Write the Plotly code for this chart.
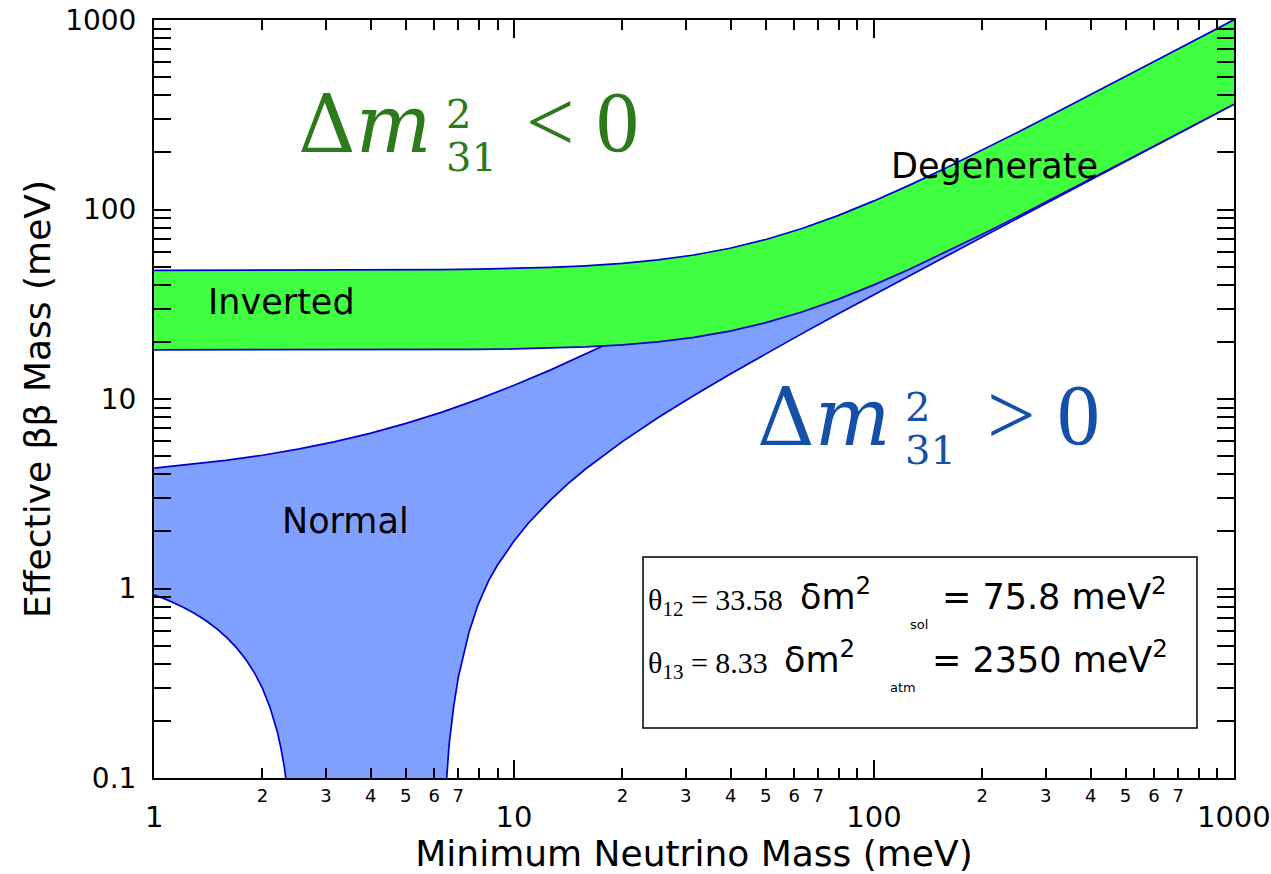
import plotly.graph_objects as go

# ---------------- data ----------------
grid_x = [1, 1.26, 1.58, 2, 2.51, 3.16, 3.98, 5.01, 6.31, 7.94,
          10, 12.6, 15.8, 20, 25.1, 31.6, 39.8, 50.1, 63.1, 79.4,
          100, 126, 158, 200, 251, 316, 398, 501, 631, 794, 1000]

inverted_upper = [47.72, 47.73, 47.75, 47.77, 47.81, 47.86, 47.93, 48.05, 48.22, 48.49,
                  48.90, 49.53, 50.47, 51.97, 54.18, 57.51, 62.42, 69.47, 79.37, 92.86,
                  111.0, 134.9, 165.2, 205.7, 255.6, 319.7, 400.9, 503.3, 632.8, 795.5, 1001.2]
inverted_lower = [18.17, 18.17, 18.17, 18.16, 18.16, 18.16, 18.17, 18.18, 18.21, 18.27,
                  18.37, 18.54, 18.82, 19.29, 20.01, 21.13, 22.82, 25.28, 28.77, 33.56,
                  40.03, 48.57, 59.42, 73.94, 91.83, 114.8, 144.0, 180.7, 227.2, 285.6, 359.4]

normal_upper = [4.32, 4.51, 4.74, 5.05, 5.44, 5.94, 6.59, 7.44, 8.53, 9.95,
                11.81, 14.20, 17.21, 21.22, 26.16, 32.50, 40.56, 50.73, 63.63, 79.82,
                100.3, 126.3, 158.3, 200.2, 251.2, 316.1, 398.0, 501.1, 631.1, 794.0, 1000.0]

normal_lower_x = [1, 1.1, 1.2, 1.3, 1.4, 1.5, 1.6, 1.7, 1.8, 1.9, 2.0, 2.1, 2.2, 2.25,
                  2.3, 2.35, 2.4, 2.45, 2.5,
                  6.3, 6.4, 6.5, 6.6, 6.8, 7.0, 7.5, 7.94, 8.5, 9.0,
                  10, 11, 12.6, 14, 15.8, 17.8, 20, 25.1, 31.6, 39.8, 50.1, 63.1, 79.4,
                  100, 126, 158, 200, 251, 316, 398, 501, 631, 794, 1000]
normal_lower = [0.927, 0.863, 0.799, 0.736, 0.672, 0.609, 0.545, 0.483, 0.421, 0.359,
                0.297, 0.235, 0.175, 0.144, 0.114, 0.084, 0.054, 0.024, 0.005,
                0.005, 0.06, 0.10, 0.15, 0.24, 0.34, 0.59, 0.82, 1.10, 1.33,
                1.78, 2.23, 2.92, 3.52, 4.27, 5.08, 5.96, 7.96, 10.44, 13.52, 17.35, 22.13, 28.08,
                35.56, 44.95, 56.5, 71.6, 90.0, 113.3, 142.8, 179.7, 226.5, 285.0, 359.0]

x_minor_vals = [2, 3, 4, 5, 6, 7, 8, 9, 20, 30, 40, 50, 60, 70, 80, 90,
                200, 300, 400, 500, 600, 700, 800, 900]
x_minor_text = ["2", "3", "4", "5", "6", "7", "", "",
                "2", "3", "4", "5", "6", "7", "", "",
                "2", "3", "4", "5", "6", "7", "", ""]
x_major_vals = [1, 10, 100, 1000]
x_major_text = ["1", "10", "100", "1000"]
y_major_vals = [0.1, 1, 10, 100, 1000]
y_major_text = ["0.1", "1", "10", "100", "1000"]
y_minor_vals = [m * d for d in (0.1, 1, 10, 100) for m in range(2, 10)]

# ---------------- styling ----------------
GREEN_FILL = "#40ff40"
BLUE_FILL = "#80a0ff"
EDGE = "#0000cc"
GREEN_TXT = "#2d7a1c"
BLUE_TXT = "#1450a8"
SANS = "DejaVu Sans"
SERIF = "Liberation Serif"
MATH = "DejaVu Serif"

PL, PR, PT, PB = 154, 1234, 20, 778
XR = [-0.0004, 3.0004]


def px(v):
    return (v - PL) / (PR - PL)


def py(v):
    return (PB - v) / (PB - PT)


fig = go.Figure()

# Normal ordering band
fig.add_trace(go.Scatter(
    x=grid_x + normal_lower_x[::-1], y=normal_upper + normal_lower[::-1],
    fill="toself", fillcolor=BLUE_FILL, mode="none", hoverinfo="skip", showlegend=False))
fig.add_trace(go.Scatter(x=grid_x, y=normal_upper, mode="lines",
                         line=dict(color=EDGE, width=1.7), showlegend=False))
fig.add_trace(go.Scatter(x=normal_lower_x, y=normal_lower, mode="lines",
                         line=dict(color=EDGE, width=1.7), showlegend=False))

# Inverted ordering band
fig.add_trace(go.Scatter(
    x=grid_x + grid_x[::-1], y=inverted_upper + inverted_lower[::-1],
    fill="toself", fillcolor=GREEN_FILL, mode="none", hoverinfo="skip", showlegend=False))
fig.add_trace(go.Scatter(x=grid_x, y=inverted_upper, mode="lines",
                         line=dict(color=EDGE, width=1.7), showlegend=False))
fig.add_trace(go.Scatter(x=grid_x, y=inverted_lower, mode="lines",
                         line=dict(color=EDGE, width=1.7), showlegend=False))

# invisible trace carrying the major-label axis
fig.add_trace(go.Scatter(x=x_major_vals, y=[1] * 4, xaxis="x2", mode="markers",
                         marker=dict(opacity=0), hoverinfo="skip", showlegend=False))

annotations = []


def txt(s, x, y, size, color="black", family=SANS, xanchor="center"):
    annotations.append(dict(text=s, x=px(x), y=py(y), xref="paper", yref="paper",
                            xanchor=xanchor, yanchor="middle", showarrow=False,
                            font=dict(family=family, size=size, color=color)))


txt("Inverted", 281, 302, 35)
txt("Normal", 345, 521, 35)
txt("Degenerate", 994, 166, 35)

# Delta m^2_31 < 0
txt("Δ<i>m</i>", 296, 124, 80, GREEN_TXT, MATH, "left")
txt("2", 444, 114, 40, GREEN_TXT, MATH, "left")
txt("31", 444, 157, 40, GREEN_TXT, MATH, "left")
txt("<\u00a00", 524, 122, 86, GREEN_TXT, SERIF, "left")
# Delta m^2_31 > 0
txt("Δ<i>m</i>", 755, 417, 80, BLUE_TXT, MATH, "left")
txt("2", 903, 407, 40, BLUE_TXT, MATH, "left")
txt("31", 903, 450, 40, BLUE_TXT, MATH, "left")
txt(">\u00a00", 985, 415, 86, BLUE_TXT, SERIF, "left")

# parameter box
txt("θ<sub>12</sub> = 33.58", 646, 602, 30, family=SERIF, xanchor="left")
txt("δm<sup>2</sup>", 798, 594, 35, xanchor="left")
txt("sol", 908, 624, 13, xanchor="left")
txt("= 75.8 meV<sup>2</sup>", 940, 594, 35, xanchor="left")
txt("θ<sub>13</sub> = 8.33", 646, 665, 30, family=SERIF, xanchor="left")
txt("δm<sup>2</sup>", 782, 657, 35, xanchor="left")
txt("atm", 888, 687, 13, xanchor="left")
txt("= 2350 meV<sup>2</sup>", 930, 657, 35, xanchor="left")

fig.add_shape(type="rect", xref="paper", yref="paper",
              x0=px(643), x1=px(1197), y0=py(728), y1=py(557),
              line=dict(color="black", width=1.5))

axis_common = dict(type="log", showgrid=False, zeroline=False, ticks="inside",
                   tickcolor="black", tickwidth=1.5, mirror="allticks", automargin=False)

fig.update_layout(
    width=1271, height=874,
    margin=dict(l=PL, r=1271 - PR, t=PT, b=874 - PB),
    paper_bgcolor="white", plot_bgcolor="white",
    font=dict(family=SANS, color="black"),
    annotations=annotations,
    xaxis=dict(**axis_common, range=XR, tickmode="array",
               tickvals=x_minor_vals, ticktext=x_minor_text, ticklen=10,
               tickfont=dict(size=18), showline=True, linecolor="black", linewidth=2,
               title=dict(text="Minimum Neutrino Mass (meV)", font=dict(size=36), standoff=38)),
    xaxis2=dict(**axis_common, range=XR, overlaying="x", anchor="y", side="bottom",
                tickmode="array", tickvals=x_major_vals, ticktext=x_major_text,
                ticklen=18, tickfont=dict(size=29), ticklabelstandoff=19,
                ticklabeloverflow="allow", showline=False),
    yaxis=dict(**axis_common, range=[-1, 3], tickmode="array",
               tickvals=y_major_vals, ticktext=y_major_text, ticklen=17,
               tickfont=dict(size=28), ticklabelstandoff=10,
               minor=dict(ticks="inside", ticklen=10, tickvals=y_minor_vals,
                          tickcolor="black", tickwidth=1.5),
               showline=True, linecolor="black", linewidth=2,
               title=dict(text="Effective ββ Mass (meV)", font=dict(size=36), standoff=4)),
)

fig.write_html("out.html")
